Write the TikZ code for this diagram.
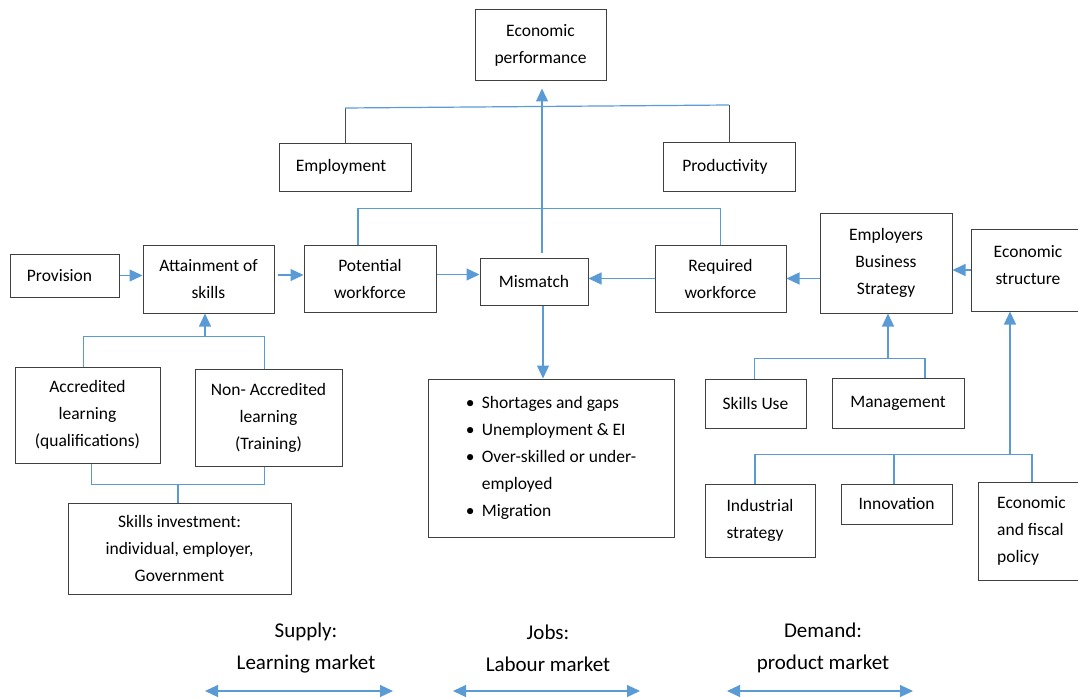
\documentclass[tikz,border=0pt]{standalone}
\usepackage{fontspec}
\setmainfont{Carlito}
\usetikzlibrary{arrows.meta}
\definecolor{linkblue}{RGB}{91,155,213}
\tikzset{
  box/.style={draw=black!75, line width=1pt, inner sep=0pt, align=center, font=\fontsize{17.5}{27}\selectfont},
  link/.style={draw=linkblue, line width=1.2pt},
  tie/.style={draw=black!70, line width=1pt},
  market/.style={align=center, font=\fontsize{21}{32}\selectfont},
}
\begin{document}
\begin{tikzpicture}[x=1pt, y=-1pt, >={Triangle[length=13pt,width=12pt]}]
\useasboundingbox (0,0) rectangle (1078,698);

\node[box, minimum width=131, minimum height=71] (econ) at (540.5,45.5) {Economic\\performance};
\node[box, minimum width=132, minimum height=48] (employ) at (345,167) {Employment\hspace{8pt}};
\node[box, minimum width=132, minimum height=49] (produc) at (729,166.5) {Productivity\hspace{8pt}};

\node[box, minimum width=109, minimum height=43] (prov) at (64.5,275.5) {Provision\hspace{10pt}};
\node[box, minimum width=131, minimum height=68] (attain) at (208.5,279) {Attainment of\\skills};
\node[box, minimum width=132, minimum height=67] (potent) at (370,278.5) {Potential\\workforce};
\node[box, minimum width=108, minimum height=47] (mismatch) at (534,281.5) {Mismatch};
\node[box, minimum width=131, minimum height=67] (required) at (720.5,278.5) {Required\\workforce};
\node[box, minimum width=132, minimum height=100] (employers) at (886,263) {Employers\\Business\\Strategy};
\node[box, minimum width=114, minimum height=82] (econstruct) at (1028,270) {Economic\\structure\\[-16pt]\mbox{}};

\node[box, minimum width=145, minimum height=96] (accred) at (87.5,415) {Accredited\\learning\\(qualifications)};
\node[box, minimum width=147, minimum height=97] (nonacc) at (268.5,417.5) {Non- Accredited\\learning\\(Training)};
\node[box, minimum width=223, minimum height=91] (invest) at (179.5,548.5) {Skills investment:\\individual, employer,\\Government};

\node[box, minimum width=246, minimum height=158, align=left] (issues) at (551,458)
  {\makebox[16pt][l]{\textbullet}Shortages and gaps\\
   \makebox[16pt][l]{\textbullet}Unemployment \& EI\\
   \makebox[16pt][l]{\textbullet}Over-skilled or under-\\
   \hspace*{16pt}employed\\
   \makebox[16pt][l]{\textbullet}Migration};

\node[box, minimum width=101, minimum height=49] (skillsuse) at (755.5,403.5) {Skills Use};
\node[box, minimum width=132, minimum height=50] (manage) at (898,403) {Management};
\node[box, minimum width=110, minimum height=73, align=left] (industrial) at (760,520.5) {Industrial\\strategy};
\node[box, minimum width=111, minimum height=40] (innov) at (896.5,504) {Innovation};
\node[box, minimum width=107, minimum height=98, align=left] (fiscal) at (1031.5,531) {Economic\\and fiscal\\policy};

\coordinate (topl) at (345,108);
\coordinate (topr) at (729,105);
\draw[tie] (employ.north) -- (topl);
\draw[tie] (produc.north) -- (topr);
\draw[link] (topl) -- (topr);
\draw[link,->] ([xshift=8pt,yshift=5pt]mismatch.north) -- ([xshift=8pt,yshift=-7pt]mismatch.north |- econ.south);
\draw[link] ([xshift=-12pt]potent.north) -- ++(0,-36) -| (required.north);

\draw[link,->] (prov.east) -- (prov.east -| attain.west);
\draw[link,->] ([xshift=3pt,yshift=4pt]attain.east) -- ([yshift=4pt]attain.east -| potent.west);
\draw[link,->] ([yshift=4pt]potent.east) -- ([yshift=4pt]potent.east -| mismatch.west);
\draw[link,->] (required.west) -- (required.west -| mismatch.east);
\draw[link,->] (required.east -| employers.west) -- (required.east);
\draw[link,->] (econstruct.west) -- (econstruct.west -| employers.east);

\coordinate (upj) at (205,337);
\draw[link] ([xshift=-4pt]accred.north) -- ++(0,-30) -| ([xshift=-4pt]nonacc.north);
\draw[link,->] (upj) -- (upj |- attain.south);
\coordinate (dnj) at (178,484);
\draw[link] ([xshift=4pt]accred.south) -- ++(0,21) -| ([xshift=-4pt]nonacc.south);
\draw[link] (dnj) -- (dnj |- invest.north);

\draw[link,->] ([xshift=9pt]mismatch.south) -- ([xshift=9pt]mismatch.south |- issues.north);

\coordinate (mgj) at (888,359);
\draw[link] ([xshift=-1pt]skillsuse.north) -- ++(0,-20) -| ([xshift=27pt]manage.north);
\draw[link,->] (mgj) -- (mgj |- employers.south);

\coordinate (inj) at (1010,455);
\draw[link] ([xshift=-5pt]industrial.north) -- ++(0,-29) -| ([xshift=0.5pt]fiscal.north);
\draw[link] ([xshift=-2.5pt]innov.north) -- ++(0,-29);
\draw[link,->] (inj) -- (inj |- econstruct.south);

\foreach \n/\cx/\la/\lb/\a/\b in {supply/306/Supply:/Learning market/205/393,
  jobs/548/Jobs:/Labour market/453/640, demand/823/Demand:/product market/727/913}
{
  \node[market] (\n) at (\cx,648) {\la\\\lb};
  \coordinate (\n l) at (\a,691);
  \coordinate (\n r) at (\b,691);
  \draw[link,<->] (\n l) -- (\n r);
}
\end{tikzpicture}
\end{document}
